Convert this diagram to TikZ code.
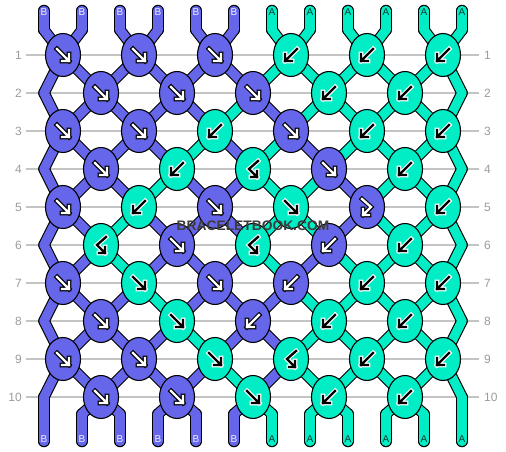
\documentclass[tikz,border=0pt]{standalone}
\usepackage{fontspec}
\setmainfont{Liberation Sans}
\usetikzlibrary{shapes.geometric}
\definecolor{colB}{HTML}{6666EA}
\definecolor{colA}{HTML}{00EDC5}
\definecolor{gridc}{HTML}{C4C4C4}
\definecolor{labc}{HTML}{9C9C9C}
\definecolor{wmc}{HTML}{3C3C3C}
\definecolor{txtB}{HTML}{EEEEFF}
\definecolor{txtA}{HTML}{0A3A30}

% colour at each string position after row r (0 = start)
\expandafter\def\csname lv0\endcsname{B,B,B,B,B,B,A,A,A,A,A,A}
\expandafter\def\csname lv1\endcsname{B,B,B,B,B,B,A,A,A,A,A,A}
\expandafter\def\csname lv2\endcsname{B,B,B,B,B,A,B,A,A,A,A,A}
\expandafter\def\csname lv3\endcsname{B,B,B,B,A,B,A,B,A,A,A,A}
\expandafter\def\csname lv4\endcsname{B,B,B,A,B,B,A,A,B,A,A,A}
\expandafter\def\csname lv5\endcsname{B,B,A,B,B,B,A,A,B,A,A,A}
\expandafter\def\csname lv6\endcsname{B,B,A,B,B,B,A,B,A,A,A,A}
\expandafter\def\csname lv7\endcsname{B,B,B,A,B,B,B,A,A,A,A,A}
\expandafter\def\csname lv8\endcsname{B,B,B,B,A,B,B,A,A,A,A,A}
\expandafter\def\csname lv9\endcsname{B,B,B,B,B,A,B,A,A,A,A,A}
\expandafter\def\csname lv10\endcsname{B,B,B,B,B,B,A,A,A,A,A,A}

% knots per row: colour / type
\expandafter\def\csname kn1\endcsname{B/F,B/F,B/F,A/K,A/K,A/K}
\expandafter\def\csname kn2\endcsname{B/F,B/F,B/F,A/K,A/K}
\expandafter\def\csname kn3\endcsname{B/F,B/F,A/K,B/F,A/K,A/K}
\expandafter\def\csname kn4\endcsname{B/F,A/K,A/BF,B/F,A/K}
\expandafter\def\csname kn5\endcsname{B/F,A/K,B/F,A/F,B/FB,A/K}
\expandafter\def\csname kn6\endcsname{A/BF,B/F,A/BF,B/K,A/K}
\expandafter\def\csname kn7\endcsname{B/F,A/F,B/F,B/K,A/K,A/K}
\expandafter\def\csname kn8\endcsname{B/F,A/F,B/K,A/K,A/K}
\expandafter\def\csname kn9\endcsname{B/F,B/F,A/F,A/BF,A/K,A/K}
\expandafter\def\csname kn10\endcsname{B/F,B/F,A/F,A/K,A/K}

\tikzset{
  strout/.style={draw=black,line width=11.5pt,line cap=round,line join=round},
  strin/.style={draw=#1,line width=9.3pt,line cap=round,line join=round},
  knot/.style={ellipse,draw=black,line width=1.1pt,minimum width=35pt,minimum height=43pt,inner sep=0pt},
  aoutB/.style={draw=black,line width=4.6pt,line cap=rect,line join=miter},
  ainB/.style={draw=white,line width=2.4pt,line cap=rect,line join=miter},
  aoutA/.style={draw=white,line width=4.6pt,line cap=rect,line join=miter},
  ainA/.style={draw=black,line width=2.4pt,line cap=rect,line join=miter},
  gridline/.style={draw=gridc,line width=1.3pt},
  rowlab/.style={font=\fontsize{12}{12}\selectfont,text=labc,inner sep=0pt},
  strlab/.style={font=\fontsize{10}{10}\selectfont,inner sep=0pt},
}

\newcommand\arrF[1]{%
  \draw[aout#1] (-6,-6)--(6,6) (-1,6)--(6,6)--(6,-1);
  \draw[ain#1] (-6,-6)--(6,6) (-1,6)--(6,6)--(6,-1);}
\newcommand\arrK[1]{%
  \draw[aout#1] (6,-6)--(-6,6) (1,6)--(-6,6)--(-6,-1);
  \draw[ain#1] (6,-6)--(-6,6) (1,6)--(-6,6)--(-6,-1);}
\newcommand\arrFB[1]{%
  \draw[aout#1] (-5,-8)--(4,0)--(-4,8) (2,8)--(-4,8)--(-4,2);
  \draw[ain#1] (-5,-8)--(4,0)--(-4,8) (2,8)--(-4,8)--(-4,2);}
\newcommand\arrBF[1]{%
  \draw[aout#1] (5,-8)--(-4,0)--(4,8) (-2,8)--(4,8)--(4,2);
  \draw[ain#1] (5,-8)--(-4,0)--(4,8) (-2,8)--(4,8)--(4,2);}

\newcommand\drawstrings[1]{%
  \foreach \r in {0,...,10}{%
    \pgfmathtruncatemacro\rn{\r+1}%
    \expandafter\let\expandafter\curlist\csname lv\r\endcsname
    \foreach \c [count=\p] in \curlist {\draw[#1=col\c] (P-\r-\p) -- (P-\rn-\p);}%
  }%
  \foreach \p in {1,...,12}{%
    \ifnum\p<7 \def\c{B}\else\def\c{A}\fi
    \draw[#1=col\c] (T-\p) -- (P-0-\p);
    \draw[#1=col\c] (P-11-\p) -- (E-\p);
  }%
}

\begin{document}
\begin{tikzpicture}[x=1pt,y=-1pt]
\useasboundingbox (0,0) rectangle (506,452);
\fill[white] (0,0) rectangle (506,452);

% row lines and numbers
\foreach \r in {1,...,10}{
  \pgfmathsetmacro\yy{55+38*(\r-1)}
  \draw[gridline] (26,\yy) -- (479,\yy);
  \node[rowlab,anchor=east] (L\r) at (22,\yy) {\r};
  \node[rowlab,anchor=west] (R\r) at (484,\yy) {\r};
}

% string positions
\foreach \r in {0,...,11}{
  \foreach \p in {1,...,12}{
    \ifnum\r=0
      \pgfmathsetmacro\xx{44+38*(\p-1)}\def\yy{30}%
    \else\ifnum\r=11
      \pgfmathsetmacro\xx{44+38*(\p-1)}\def\yy{414}%
    \else
      \pgfmathsetmacro\yy{55+38*(\r-1)}%
      \ifodd\r
        \pgfmathsetmacro\xx{63+76*floor((\p-1)/2)}%
      \else
        \ifnum\p=1 \def\xx{44}\else\ifnum\p=12 \def\xx{462}\else
          \pgfmathsetmacro\xx{101+76*floor((\p-2)/2)}\fi\fi
      \fi
    \fi\fi
    \coordinate (P-\r-\p) at (\xx,\yy);
  }
}
\foreach \p in {1,...,12}{
  \pgfmathsetmacro\xx{44+38*(\p-1)}
  \coordinate (T-\p) at (\xx,10.5);
  \coordinate (E-\p) at (\xx,441.5);
}

% strings
\drawstrings{strout}
\drawstrings{strin}

% string end labels
\foreach \p in {1,...,12}{
  \ifnum\p<7 \def\c{B}\else\def\c{A}\fi
  \node[strlab,text=txt\c] (TL-\p) at ([yshift=-2pt]T-\p) {\c};
  \node[strlab,text=txt\c] (BL-\p) at ([yshift=2.5pt]E-\p) {\c};
}

% knots
\foreach \r in {1,...,10}{
  \pgfmathsetmacro\yy{55+38*(\r-1)}
  \ifodd\r \def\xs{63}\else\def\xs{101}\fi
  \expandafter\let\expandafter\curlist\csname kn\r\endcsname
  \foreach \c/\t [count=\j] in \curlist {
    \pgfmathsetmacro\xx{\xs+76*(\j-1)}
    \node[knot,fill=col\c] (K-\r-\j) at (\xx,\yy) {};
    \edef\doarrow{\expandafter\noexpand\csname arr\t\endcsname{\c}}
    \begin{scope}[shift={(K-\r-\j.center)}]\doarrow\end{scope}
  }
}

% watermark
\node[font=\bfseries\fontsize{13.8}{14}\selectfont,text=wmc,inner sep=0pt] (wm) at (253,226) {BRACELETBOOK.COM};
\end{tikzpicture}
\end{document}
